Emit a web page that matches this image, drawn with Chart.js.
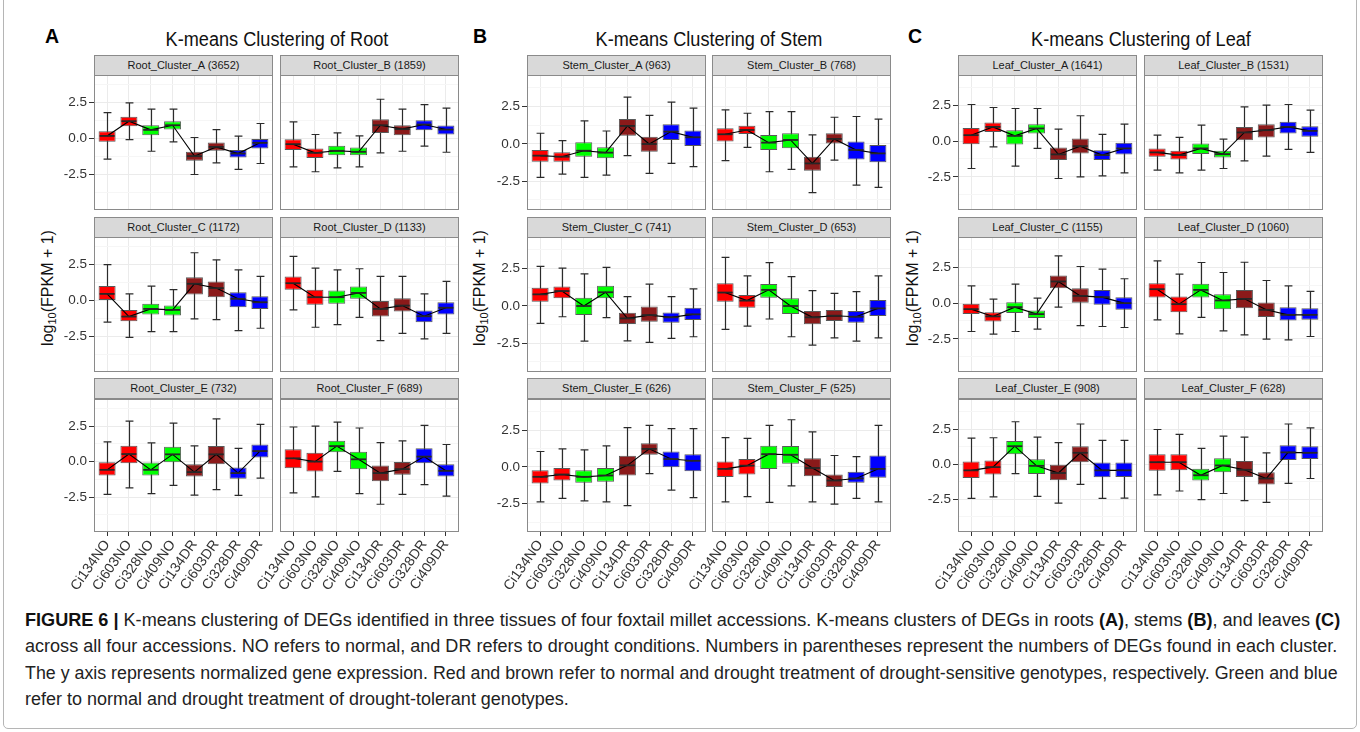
<!DOCTYPE html>
<html>
<head>
<meta charset="utf-8">
<script src="https://cdn.jsdelivr.net/npm/chart.js@4.4.1/dist/chart.umd.min.js"></script>
<style>
  body { margin: 0; background: #fff; }
  #page { position: relative; width: 1360px; height: 732px; overflow: hidden; font-family: "Liberation Sans", Arial, sans-serif; color: #1a1a1a; }
  .frame { position: absolute; left: 3px; top: -10px; width: 1352px; height: 737px; border: 1px solid #b5b5b5; border-radius: 5px; }
  .letter { position: absolute; font-weight: bold; font-size: 19.5px; line-height: 19px; color: #000; }
  .ptitle { position: absolute; font-size: 19.5px; line-height: 20px; white-space: nowrap; transform: translateX(-50%) scaleX(0.93); color: #111; }
  .strip { position: absolute; height: 21px; box-sizing: border-box; background: #d9d9d9; border: 1px solid #8a8a8a; font-size: 11px; line-height: 19px; text-align: center; color: #1a1a1a; }
  .ytitle { position: absolute; font-size: 16px; white-space: nowrap; transform: translate(-50%, -50%) rotate(-90deg); color: #111; }
  .ytitle sub { font-size: 11px; vertical-align: -3px; }
  canvas { position: absolute; }
  .cap { position: absolute; left: 25px; font-size: 17.5px; line-height: 20px; white-space: nowrap; transform-origin: 0 0; color: #222; }
  .cap b { color: #111; }
</style>
</head>
<body>
<div id="page"><div class="frame"></div></div>
<script>
const samples = ['Ci134NO', 'Ci603NO', 'Ci328NO', 'Ci409NO', 'Ci134DR', 'Ci603DR', 'Ci328DR', 'Ci409DR'];
const boxColors = ['#ff0000', '#ff0000', '#00ff00', '#00ff00', '#8b1a1a', '#8b1a1a', '#0000ff', '#0000ff'];
const yTicks = [-3.75, -2.5, -1.25, 0, 1.25, 2.5, 3.75];

// each box: [lower whisker, Q1, median, Q3, upper whisker]
const rootA = [[-1.43,-0.23,0.18,0.5,1.8],[-0.07,0.85,1.2,1.5,2.47],[-0.88,0.23,0.6,0.92,2.03],[-0.23,0.62,0.92,1.2,2.03],[-2.49,-1.54,-1.22,-0.92,0.07],[-1.68,-0.85,-0.58,-0.28,0.62],[-2.14,-1.31,-1.04,-0.8,0.16],[-1.73,-0.69,-0.3,0,1.04]];
const rootB = [[-1.96,-0.8,-0.39,-0.05,1.15],[-2.3,-1.34,-0.99,-0.69,0.28],[-2.03,-1.15,-0.85,-0.5,0.39],[-1.96,-1.15,-0.92,-0.62,0.18],[-0.99,0.39,0.92,1.34,2.72],[-0.88,0.23,0.65,0.92,2.03],[-0.53,0.58,0.97,1.27,2.35],[-0.95,0.28,0.62,0.9,2.1]];
const rootC = [[-1.5,0,0.46,1.0,2.48],[-2.55,-1.44,-1.11,-0.65,0.46],[-2.15,-0.97,-0.58,-0.23,1.0],[-2.15,-1.04,-0.65,-0.35,0.76],[-1.27,0.42,1.16,1.62,3.31],[-1.32,0.23,0.86,1.32,2.82],[-2.08,-0.46,0.12,0.58,2.13],[-1.92,-0.58,-0.12,0.3,1.67]];
const rootD = [[-0.65,0.74,1.2,1.67,3.06],[-1.85,-0.3,0.23,0.74,2.25],[-1.67,-0.23,0.23,0.7,2.13],[-1.16,0.12,0.53,0.97,2.2],[-2.78,-1.11,-0.58,0,1.67],[-2.27,-0.76,-0.35,0.16,1.67],[-2.66,-1.5,-1.09,-0.69,0.46],[-2.27,-0.97,-0.5,-0.12,1.32]];
const rootE = [[-2.31,-0.97,-0.58,-0.05,1.39],[-1.85,-0.12,0.53,1.11,2.85],[-2.25,-0.97,-0.58,-0.07,1.32],[-1.67,-0.05,0.51,1.04,2.7],[-2.36,-1.04,-0.74,-0.19,1.11],[-1.97,-0.19,0.51,1.09,3.0],[-2.38,-1.2,-0.81,-0.42,0.93],[-1.16,0.28,0.74,1.2,2.62]];
const rootF = [[-2.2,-0.46,0.23,0.86,2.43],[-2.48,-0.69,0,0.62,2.5],[-0.69,0.65,1.09,1.46,2.78],[-2.25,-0.53,0.16,0.69,2.36],[-3.0,-1.39,-0.81,-0.28,1.34],[-2.31,-0.93,-0.53,0,1.46],[-1.62,-0.12,0.35,0.93,2.55],[-2.43,-1.04,-0.65,-0.19,1.2]];

const stemA = [[-2.24,-1.19,-0.78,-0.4,0.72],[-2.02,-1.19,-0.85,-0.56,0.22],[-2.24,-0.85,-0.45,0.11,1.55],[-2.09,-0.96,-0.58,-0.22,0.87],[-0.78,0.56,1.21,1.68,3.14],[-1.97,-0.52,0,0.49,1.91],[-1.3,0.27,0.83,1.32,2.8],[-1.52,-0.13,0.45,0.9,2.4]];
const stemB = [[-1.12,0.16,0.65,1.05,2.29],[-0.22,0.67,0.94,1.23,2.06],[-1.86,-0.4,0.09,0.61,2.17],[-1.7,-0.29,0.27,0.72,2.17],[-3.25,-1.79,-1.3,-0.85,0.61],[-1.08,0,0.34,0.72,1.79],[-2.76,-1.03,-0.4,0.16,1.84],[-2.91,-1.23,-0.63,-0.07,1.66]];
const stemC = [[-1.17,0.29,0.78,1.23,2.65],[-0.72,0.52,1.0,1.3,2.53],[-2.35,-0.61,0,0.56,2.15],[-0.78,0.52,0.92,1.35,2.58],[-2.33,-1.21,-0.83,-0.45,0.63],[-2.44,-1.05,-0.61,-0.04,1.46],[-2.17,-1.12,-0.76,-0.43,0.63],[-2.06,-0.94,-0.56,-0.11,1.14]];
const stemD = [[-1.57,0.29,0.9,1.52,3.25],[-1.35,-0.11,0.36,0.74,2.02],[-0.87,0.56,1.08,1.48,2.91],[-2.06,-0.54,0,0.52,1.97],[-2.62,-1.23,-0.76,-0.34,1.03],[-2.13,-1.01,-0.65,-0.27,0.85],[-2.35,-1.12,-0.72,-0.34,0.96],[-2.13,-0.67,-0.16,0.4,2.02]];
const stemE = [[-2.37,-1.12,-0.67,-0.22,1.05],[-2.14,-0.92,-0.51,-0.07,1.23],[-2.3,-1.07,-0.67,-0.22,1.16],[-2.37,-1.0,-0.58,-0.07,1.43],[-2.63,-0.58,0.11,0.76,2.68],[-0.45,0.83,1.23,1.61,2.83],[-1.58,-0.02,0.54,1.05,2.61],[-2.08,-0.29,0.42,0.87,2.61]];
const stemF = [[-2.37,-0.69,-0.13,0.38,1.99],[-2.01,-0.51,0.09,0.54,1.94],[-2.41,-0.13,0.87,1.45,2.83],[-1.29,0.22,0.83,1.43,3.21],[-2.37,-0.63,-0.07,0.6,2.39],[-2.52,-1.36,-0.92,-0.51,0.78],[-2.14,-1.07,-0.78,-0.33,0.71],[-2.37,-0.74,-0.13,0.78,2.83]];

const leafA = [[-1.92,-0.21,0.42,0.93,2.57],[-0.4,0.65,1.0,1.31,2.36],[-1.75,-0.23,0.37,0.77,2.29],[-0.51,0.54,0.89,1.19,2.29],[-2.62,-1.33,-0.93,-0.44,0.84],[-2.5,-0.86,-0.35,0.19,1.78],[-2.43,-1.33,-0.98,-0.63,0.47],[-2.22,-0.93,-0.51,-0.12,1.19]];
const leafB = [[-2.03,-1.1,-0.79,-0.51,0.42],[-2.22,-1.29,-0.98,-0.68,0.26],[-2.03,-0.91,-0.51,-0.16,1.12],[-1.92,-1.14,-0.91,-0.68,0.14],[-1.38,0.07,0.61,1.0,2.41],[-1.05,0.26,0.77,1.19,2.52],[-0.58,0.54,1.0,1.36,2.57],[-0.79,0.3,0.72,1.05,2.17]];
const leafC = [[-1.99,-0.77,-0.42,0,1.21],[-2.17,-1.29,-0.93,-0.63,0.28],[-1.99,-0.7,-0.28,0.07,1.33],[-1.82,-1.05,-0.77,-0.51,0.35],[-0.28,1.05,1.52,1.94,3.32],[-1.57,0,0.51,1.05,2.57],[-1.64,-0.12,0.42,0.93,2.38],[-1.71,-0.47,0,0.42,1.71]];
const leafD = [[-1.17,0.4,0.98,1.4,2.97],[-2.15,-0.63,-0.07,0.47,2.03],[-1.0,0.4,0.93,1.36,2.85],[-1.94,-0.42,0.19,0.63,2.15],[-2.22,-0.35,0.3,0.93,2.87],[-2.52,-0.98,-0.47,0.05,1.59],[-2.57,-1.21,-0.82,-0.28,1.21],[-2.34,-1.17,-0.82,-0.35,0.82]];
const leafE = [[-2.44,-0.98,-0.44,0.19,1.86],[-2.33,-0.74,-0.21,0.26,1.88],[-0.67,0.7,1.28,1.65,3.02],[-2.3,-0.7,-0.12,0.35,1.93],[-2.77,-1.14,-0.63,-0.05,1.53],[-1.44,0.14,0.81,1.28,2.86],[-2.44,-0.93,-0.44,0.12,1.7],[-2.42,-0.91,-0.44,0.12,1.7]];
const leafF = [[-2.19,-0.47,0.14,0.7,2.47],[-1.91,-0.44,0.14,0.7,2.12],[-2.53,-1.16,-0.79,-0.33,1.12],[-2.09,-0.58,-0.09,0.42,2.0],[-2.6,-0.91,-0.4,0.23,1.93],[-2.72,-1.44,-1.02,-0.58,0.81],[-1.37,0.3,0.84,1.35,2.86],[-1.02,0.37,0.81,1.28,2.58]];

const rootNames = ['Root_Cluster_A (3652)', 'Root_Cluster_B (1859)', 'Root_Cluster_C (1172)', 'Root_Cluster_D (1133)', 'Root_Cluster_E (732)', 'Root_Cluster_F (689)'];
const stemNames = ['Stem_Cluster_A (963)', 'Stem_Cluster_B (768)', 'Stem_Cluster_C (741)', 'Stem_Cluster_D (653)', 'Stem_Cluster_E (626)', 'Stem_Cluster_F (525)'];
const leafNames = ['Leaf_Cluster_A (1641)', 'Leaf_Cluster_B (1531)', 'Leaf_Cluster_C (1155)', 'Leaf_Cluster_D (1060)', 'Leaf_Cluster_E (908)', 'Leaf_Cluster_F (628)'];

const panels = [
  { letter: 'A', title: 'K-means Clustering of Root', names: rootNames, data: [rootA, rootB, rootC, rootD, rootE, rootF], cols: [94, 280], yRange: [-4.95, 4.4], letterX: 45, ytitleX: 48 },
  { letter: 'B', title: 'K-means Clustering of Stem', names: stemNames, data: [stemA, stemB, stemC, stemD, stemE, stemF], cols: [527, 712], yRange: [-4.42, 4.62], letterX: 473, ytitleX: 480 },
  { letter: 'C', title: 'K-means Clustering of Leaf', names: leafNames, data: [leafA, leafB, leafC, leafD, leafE, leafF], cols: [958, 1144], yRange: [-4.83, 4.64], letterX: 908, ytitleX: 913 }
];

const plotW = 179;
const stripTops = [55, 217, 378];
const plotTops = [75, 237, 399];
const plotHs = [135, 135, 133];
const leftSpace = 50;
const labelSpace = 72;

Chart.defaults.font.family = '"Liberation Sans", Arial, sans-serif';
Chart.defaults.color = '#333';

// whiskers behind the boxes, medians and panel border on top
const boxParts = {
  id: 'boxParts',
  beforeDatasetsDraw(chart, args, opts) {
    const { ctx, scales: { x, y } } = chart;
    const cap = (x.getPixelForValue(1) - x.getPixelForValue(0)) * 0.18;
    ctx.save();
    ctx.strokeStyle = '#2b2b2b';
    ctx.lineWidth = 1.2;
    opts.boxes.forEach((b, i) => {
      const px = Math.round(x.getPixelForValue(i)) + 0.5;
      const lo = y.getPixelForValue(b[0]);
      const hi = y.getPixelForValue(b[4]);
      ctx.beginPath();
      ctx.moveTo(px, lo); ctx.lineTo(px, hi);
      ctx.moveTo(px - cap, lo); ctx.lineTo(px + cap, lo);
      ctx.moveTo(px - cap, hi); ctx.lineTo(px + cap, hi);
      ctx.stroke();
    });
    ctx.restore();
  },
  afterDatasetsDraw(chart, args, opts) {
    const { ctx, chartArea: a, scales: { x, y } } = chart;
    const bars = chart.getDatasetMeta(1).data;
    ctx.save();
    ctx.strokeStyle = '#262626';
    ctx.lineWidth = 1.8;
    opts.boxes.forEach((b, i) => {
      const px = x.getPixelForValue(i);
      const w = bars[i].width / 2 - 1;
      const py = y.getPixelForValue(b[2]);
      ctx.beginPath();
      ctx.moveTo(px - w, py); ctx.lineTo(px + w, py);
      ctx.stroke();
    });
    ctx.strokeStyle = '#8a8a8a';
    ctx.lineWidth = 1;
    ctx.strokeRect(a.left + 0.5, a.top + 0.5, a.right - a.left - 1, a.bottom - a.top - 1);
    ctx.restore();
  }
};

function addDiv(cls, css, html) {
  const d = document.createElement('div');
  d.className = cls;
  Object.assign(d.style, css);
  d.innerHTML = html;
  document.getElementById('page').appendChild(d);
  return d;
}

function facet(boxes, yRange, plotX, row, showY) {
  const showX = row === 2;
  const plotH = plotHs[row];
  const canvas = document.createElement('canvas');
  canvas.width = leftSpace + plotW + 2;
  canvas.height = 2 + plotH + (showX ? labelSpace : 2);
  canvas.style.left = (plotX - leftSpace) + 'px';
  canvas.style.top = (plotTops[row] - 2) + 'px';
  document.getElementById('page').appendChild(canvas);

  new Chart(canvas, {
    type: 'bar',
    data: {
      datasets: [
        {
          type: 'line',
          data: boxes.map((b, i) => ({ x: i, y: b[2] })),
          borderColor: '#000',
          borderWidth: 1.1,
          pointRadius: 0,
          tension: 0,
          order: 0
        },
        {
          type: 'bar',
          data: boxes.map((b, i) => ({ x: i, y: [b[1], b[3]] })),
          backgroundColor: boxColors,
          borderColor: '#595959',
          borderWidth: 1,
          borderSkipped: false,
          barPercentage: 0.78,
          categoryPercentage: 1,
          order: 1
        }
      ]
    },
    options: {
      responsive: false,
      animation: false,
      events: [],
      layout: { padding: { top: 2, right: 2, left: 0, bottom: 0 } },
      plugins: { legend: { display: false }, tooltip: { enabled: false }, boxParts: { boxes } },
      scales: {
        x: {
          type: 'linear',
          min: -0.6,
          max: 7.6,
          offset: false,
          afterBuildTicks: s => { s.ticks = samples.map((_, i) => ({ value: i })); },
          afterFit: s => { s.height = showX ? labelSpace : 2; s.paddingLeft = 0; s.paddingRight = 0; },
          ticks: {
            display: showX,
            autoSkip: false,
            minRotation: 55,
            maxRotation: 55,
            padding: 1,
            color: '#333',
            font: { size: 14 },
            callback: (v, i) => samples[i]
          },
          grid: { offset: false, color: '#ebebeb', drawTicks: showX, tickLength: 4, tickColor: '#333' },
          border: { display: false }
        },
        y: {
          min: yRange[0],
          max: yRange[1],
          afterBuildTicks: s => { s.ticks = yTicks.map(v => ({ value: v })); },
          afterFit: s => { s.width = leftSpace; s.paddingTop = 0; s.paddingBottom = 0; },
          ticks: {
            display: showY,
            padding: 2,
            color: '#333',
            font: { size: 13.5 },
            callback: v => (v % 2.5 === 0 ? v.toFixed(1) : '')
          },
          grid: {
            color: c => (c.tick && c.tick.value % 2.5 === 0 ? '#ebebeb' : '#f6f6f6'),
            drawTicks: showY,
            tickLength: 5,
            tickColor: c => (c.tick && c.tick.value % 2.5 === 0 ? '#333' : 'rgba(0,0,0,0)')
          },
          border: { display: false }
        }
      }
    },
    plugins: [boxParts]
  });
}

panels.forEach(p => {
  addDiv('letter', { left: p.letterX + 'px', top: '27px' }, p.letter);
  const centre = (p.cols[0] + p.cols[1] + plotW) / 2;
  addDiv('ptitle', { left: centre + 'px', top: '29px' }, p.title);
  addDiv('ytitle', { left: p.ytitleX + 'px', top: '288px' }, 'log<sub>10</sub>(FPKM + 1)');
  p.data.forEach((boxes, k) => {
    const row = Math.floor(k / 2);
    const col = k % 2;
    const plotX = p.cols[col];
    addDiv('strip', { left: plotX + 'px', top: stripTops[row] + 'px', width: plotW + 'px' }, p.names[k]);
    facet(boxes, p.yRange, plotX, row, col === 0);
  });
});

// caption, each line squeezed to the width it takes in the figure
const captionLines = [
  '<b>FIGURE 6 |</b> K-means clustering of DEGs identified in three tissues of four foxtail millet accessions. K-means clusters of DEGs in roots <b>(A)</b>, stems <b>(B)</b>, and leaves <b>(C)</b>',
  'across all four accessions. NO refers to normal, and DR refers to drought conditions. Numbers in parentheses represent the numbers of DEGs found in each cluster.',
  'The y axis represents normalized gene expression. Red and brown refer to normal and drought treatment of drought-sensitive genotypes, respectively. Green and blue',
  'refer to normal and drought treatment of drought-tolerant genotypes.'
];
const captionTops = [610, 636, 663, 689];
const captionWidths = [1315, 1312, 1313, null];
const capDivs = captionLines.map((t, i) => addDiv('cap', { top: captionTops[i] + 'px' }, t));
const ratios = capDivs.slice(0, 3).map((d, i) => captionWidths[i] / d.scrollWidth);
const avg = ratios.reduce((s, r) => s + r, 0) / ratios.length;
capDivs.forEach((d, i) => { d.style.transform = 'scaleX(' + (i < 3 ? ratios[i] : avg) + ')'; });
</script>
</body>
</html>
